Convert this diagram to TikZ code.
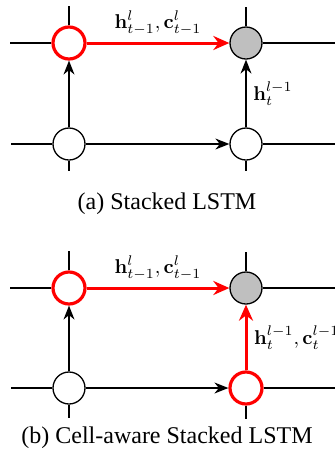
\documentclass[tikz,border=0pt]{standalone}
\usepackage[no-math]{fontspec}
\setmainfont{Liberation Serif}
\usetikzlibrary{arrows.meta}

\begin{document}
\begin{tikzpicture}[x=0.5pt,y=-0.5pt,
        cell/.style={circle, draw, line width=0.65pt, minimum size=16pt, inner sep=0pt, fill=white},
        redcell/.style={cell, draw=red, line width=1.6pt},
        graycell/.style={cell, fill=gray!50},
        link/.style={line width=0.65pt},
        flow/.style={link, -{Stealth[length=7pt,width=5.5pt]}},
        redflow/.style={line width=1.5pt, red, -{Stealth[length=8pt,width=7pt]}},
        caption/.style={font=\fontsize{12}{14}\selectfont}]
        \useasboundingbox (0,0) rectangle (334,456);

        % stacked LSTM
        \node[redcell] (a1) at (69,43) {};
        \node[graycell] (a2) at (246,43) {};
        \node[cell] (a3) at (69,144) {};
        \node[cell] (a4) at (246,144) {};

        \draw[link] (a1.west) -- ++(-41,0);
        \draw[link] (a1.north) -- ++(0,-19);
        \draw[link] (a2.east) -- ++(72,0);
        \draw[link] (a2.north) -- ++(0,-19);
        \draw[link] (a3.west) -- ++(-41,0);
        \draw[link] (a3.south) -- ++(0,10);
        \draw[link] (a4.east) -- ++(72,0);
        \draw[link] (a4.south) -- ++(0,10);

        \draw[redflow] (a1) -- node[midway, above, black] {$\mathbf{h}^l_{t-1},\mathbf{c}^l_{t-1}$} (a2);
        \draw[flow] (a3) -- (a1);
        \draw[flow] (a3) -- (a4);
        \draw[flow] (a4) -- node[midway, right] {$\mathbf{h}^{l-1}_t$} (a2);

        \node[caption] (capa) at (167,204) {(a) Stacked LSTM};

        % cell-aware stacked LSTM
        \node[redcell] (b1) at (69,288) {};
        \node[graycell] (b2) at (246,288) {};
        \node[cell] (b3) at (69,388) {};
        \node[redcell] (b4) at (246,388) {};

        \draw[link] (b1.west) -- ++(-41,0);
        \draw[link] (b1.north) -- ++(0,-19);
        \draw[link] (b2.east) -- ++(72,0);
        \draw[link] (b2.north) -- ++(0,-19);
        \draw[link] (b3.west) -- ++(-41,0);
        \draw[link] (b3.south) -- ++(0,13);
        \draw[link] (b4.east) -- ++(72,0);
        \draw[link] (b4.south) -- ++(0,13);

        \draw[redflow] (b1) -- node[midway, above, black] {$\mathbf{h}^l_{t-1},\mathbf{c}^l_{t-1}$} (b2);
        \draw[flow] (b3) -- (b1);
        \draw[flow] (b3) -- (b4);
        \draw[redflow] (b4) -- node[midway, right, black] {$\mathbf{h}^{l-1}_t,\mathbf{c}^{l-1}_t$} (b2);

        \node[caption] (capb) at (167,438) {(b) Cell-aware Stacked LSTM};

    \end{tikzpicture}
\end{document}
